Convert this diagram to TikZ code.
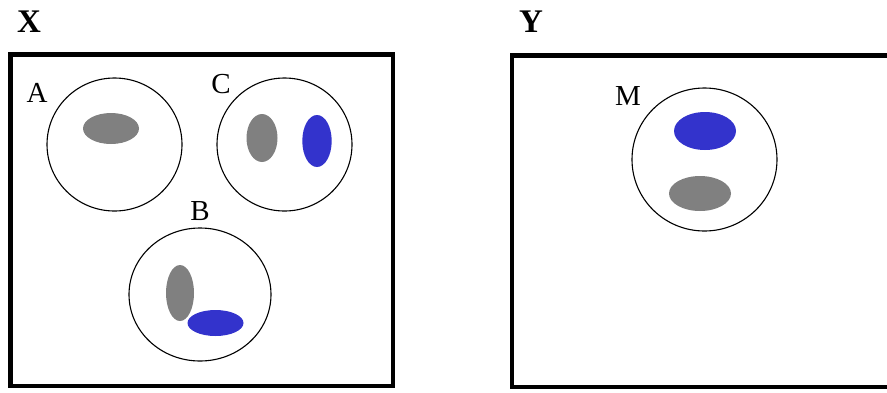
\documentclass[tikz,border=0pt]{standalone}
\usepackage{fontspec}
\setmainfont{Liberation Serif}
\definecolor{cellgray}{RGB}{128,128,128}
\definecolor{cellblue}{RGB}{51,51,204}
\begin{document}
\begin{tikzpicture}[x=1pt,y=-1pt,
  frame/.style={line width=4.5pt},
  cell/.style={line width=1.1pt},
  graydot/.style={fill=cellgray},
  bluedot/.style={fill=cellblue},
  lbl/.style={inner sep=0pt,font=\fontsize{29}{29}\selectfont},
  ttl/.style={inner sep=0pt,font=\fontsize{33}{33}\selectfont\bfseries}]
\useasboundingbox (0,0) rectangle (887,392);
% panel X
\node[ttl] (X) at (29,22) {X};
\draw[frame] (10.5,54.5) rectangle (393,386);
% cell A
\draw[cell] (114.5,144.5) ellipse [x radius=67.5, y radius=66.5];
\fill[graydot] (111,128.5) ellipse [x radius=28, y radius=15.5];
\node[lbl] (A) at (37,93) {A};
% cell C
\draw[cell] (284.5,144.5) ellipse [x radius=67.5, y radius=66.5];
\fill[graydot] (262,138) ellipse [x radius=15.5, y radius=24];
\fill[bluedot] (317,141) ellipse [x radius=14.7, y radius=26];
\node[lbl] (C) at (221,84) {C};
% cell B
\draw[cell] (200,294.5) ellipse [x radius=71, y radius=66.5];
\fill[graydot] (180,293) ellipse [x radius=14, y radius=28];
\fill[bluedot] (215.5,323) ellipse [x radius=28, y radius=13];
\node[lbl] (B) at (200,211) {B};
% panel Y
\node[ttl] (Y) at (531,22) {Y};
\draw[frame] (890,55.5) -- (512,55.5) -- (512,387) -- (890,387);
% cell M
\draw[cell] (704.5,159.5) ellipse [x radius=72.5, y radius=71.5];
\fill[bluedot] (705,131) ellipse [x radius=31, y radius=19];
\fill[graydot] (700,193.5) ellipse [x radius=31, y radius=17.5];
\node[lbl] (M) at (628,96) {M};
\end{tikzpicture}
\end{document}
